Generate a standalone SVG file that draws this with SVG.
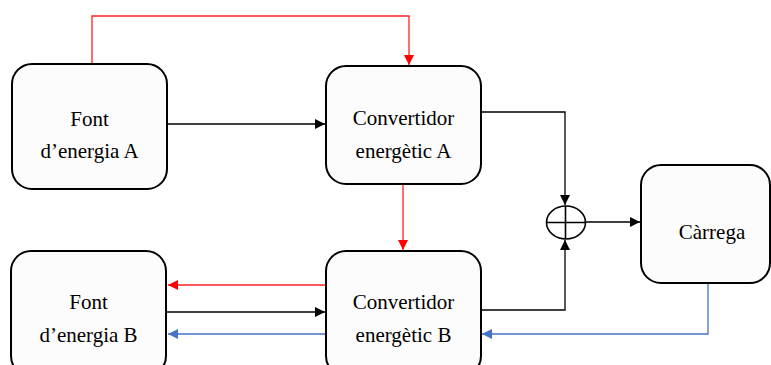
<svg xmlns="http://www.w3.org/2000/svg" width="771" height="365" viewBox="0 0 771 365">
  <style>
    .box { fill: #fcfcfc; stroke: #000; stroke-width: 2; }
    .lbl { font-family: "Liberation Serif", "Times New Roman", serif; font-size: 21px; fill: #000; text-anchor: middle; }
    .wire { fill: none; stroke-width: 1.3; }
    .k { stroke: #000; }
    .r { stroke: #ff2020; }
    .b { stroke: #4472c4; }
  </style>
  <defs>
    <marker id="ah-k" viewBox="0 0 10 10" refX="10" refY="5" markerWidth="10" markerHeight="10" markerUnits="userSpaceOnUse" orient="auto">
      <path d="M0,0 L10,5 L0,10 z" fill="#000"/>
    </marker>
    <marker id="ah-r" viewBox="0 0 10 10" refX="10" refY="5" markerWidth="10" markerHeight="10" markerUnits="userSpaceOnUse" orient="auto">
      <path d="M0,0 L10,5 L0,10 z" fill="#ff0000"/>
    </marker>
    <marker id="ah-b" viewBox="0 0 10 10" refX="10" refY="5" markerWidth="10" markerHeight="10" markerUnits="userSpaceOnUse" orient="auto">
      <path d="M0,0 L10,5 L0,10 z" fill="#4472c4"/>
    </marker>
  </defs>

  <g id="connectors">
    <!-- control links (red) -->
    <path class="wire r" d="M92,64 V16 H409 V65" marker-end="url(#ah-r)"/>
    <path class="wire r" d="M403,185 V250" marker-end="url(#ah-r)"/>
    <path class="wire r" d="M326,285 H168" marker-end="url(#ah-r)"/>
    <!-- power flow (black) -->
    <path class="wire k" d="M167,124 H325" marker-end="url(#ah-k)"/>
    <path class="wire k" d="M167,312 H325" marker-end="url(#ah-k)"/>
    <path class="wire k" d="M481,112 H565 V205" marker-end="url(#ah-k)"/>
    <path class="wire k" d="M481,310 H565 V240" marker-end="url(#ah-k)"/>
    <path class="wire k" d="M585,222 H640" marker-end="url(#ah-k)"/>
    <!-- feedback (blue) -->
    <path class="wire b" d="M708,283 V334 H482" marker-end="url(#ah-b)"/>
    <path class="wire b" d="M326,334 H168" marker-end="url(#ah-b)"/>
  </g>

  <g id="font-a">
    <rect class="box" x="12" y="64" width="155" height="125" rx="20"/>
    <text class="lbl" x="89.5" y="126">Font</text>
    <text class="lbl" x="89.5" y="158">d’energia A</text>
  </g>

  <g id="convertidor-a">
    <rect class="box" x="326" y="66" width="155" height="118" rx="20"/>
    <text class="lbl" x="403.5" y="125">Convertidor</text>
    <text class="lbl" x="403.5" y="158">energètic A</text>
  </g>

  <g id="font-b">
    <rect class="box" x="11" y="251" width="155" height="125" rx="20"/>
    <text class="lbl" x="88.5" y="309">Font</text>
    <text class="lbl" x="88.5" y="342">d’energia B</text>
  </g>

  <g id="convertidor-b">
    <rect class="box" x="326" y="251" width="155" height="125" rx="20"/>
    <text class="lbl" x="403.5" y="309">Convertidor</text>
    <text class="lbl" x="403.5" y="342">energètic B</text>
  </g>

  <g id="sumador">
    <ellipse cx="566" cy="222.5" rx="19.5" ry="16.5" fill="#fff" stroke="#000" stroke-width="1.6"/>
    <path d="M565.5,206 V239 M546.5,222.5 H585.5" stroke="#000" stroke-width="1.6" fill="none"/>
  </g>

  <g id="carrega">
    <rect class="box" x="641" y="165" width="129" height="118" rx="20"/>
    <text class="lbl" x="712" y="239">Càrrega</text>
  </g>
</svg>
